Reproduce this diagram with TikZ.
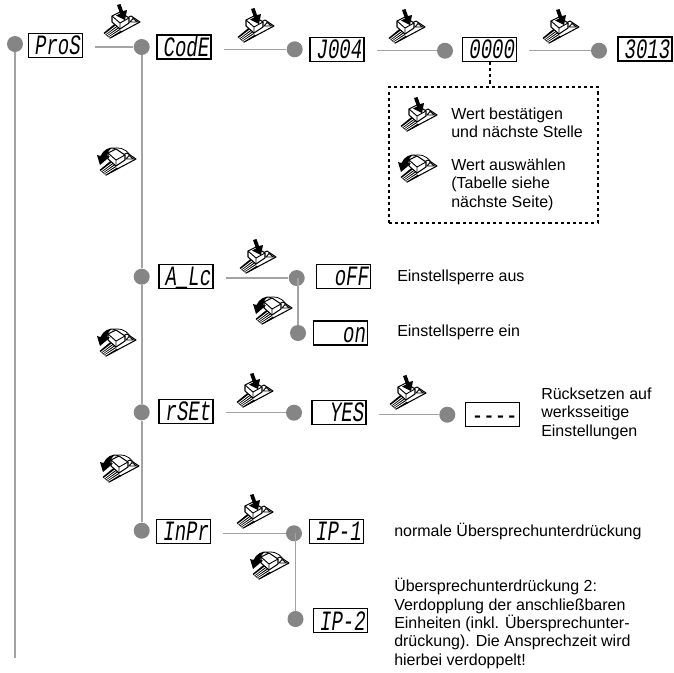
\documentclass[tikz,border=0pt]{standalone}
\usepackage{fontspec}
\usepackage{xcolor}
\usetikzlibrary{positioning}
\setmainfont{Liberation Sans}
\newfontfamily\lcdfont[FakeStretch=0.68]{Liberation Mono}
\definecolor{dotgray}{HTML}{858585}
\definecolor{linegray}{HTML}{A3A3A3}
\tikzset{
  pics/pedalbase/.style={code={
    \draw[black, line width=0.8pt, fill=white, line join=round] (6,33) -- (36,17) -- (27,11) -- (11,19) -- cycle;
    \fill[black] (-0.5,28) -- (6,33.5) -- (18,27) -- (11,18.5) -- cycle;
    \foreach \s in {1,2,3,4}
      \draw[white, line width=0.6pt] ({1.3*\s},{28+1.1*\s}) -- ({11+1.4*\s},{19+1.55*\s});
    \draw[black, line width=0.8pt, fill=white, line join=round] (8,11) -- (16,7) -- (25,13) -- (25,18) -- (16,24) -- (8,17) -- cycle;
    \draw[black, line width=0.7pt] (8,11) -- (16,18) -- (25,13) (16,18) -- (16,24);
    \draw[black, line width=0.7pt] (26,17) -- (29,13.5) -- (33.5,17) -- cycle;
  }},
  pics/pressicon/.style={code={
    \pic {pedalbase};
    \fill[black] (13,0) -- (16.5,-1) -- (19,6) -- (23,5) -- (21,15) -- (12,10.5) -- (16,8.5) -- cycle;
  }},
  pics/turnicon/.style={code={
    \begin{scope}[shift={(3,-6)}]
      \pic {pedalbase};
    \end{scope}
    \draw[black, line width=0.6pt] (33,7) .. controls (28,0) and (21,-1.5) .. (15,1);
    \fill[black] (19,-0.5) .. controls (14,-0.5) and (11,2) .. (10,8) -- (13,8.5) -- (3,17) -- (0,7) -- (3.5,8) .. controls (6,2) and (12,-1.5) .. (19,-0.5) -- cycle;
  }}
}
\begin{document}
\begin{tikzpicture}[x=0.75pt, y=-0.75pt,
  lcdbox/.style={draw=black, line width=0.85pt, minimum width=40.5pt, minimum height=18pt, inner sep=0pt},
  lcdtext/.style={font=\lcdfont\itshape\fontsize{21}{22}\selectfont, text width=38pt, text height=14pt, text depth=0pt, align=right},
  dot/.style={circle, fill=dotgray, minimum size=12pt, inner sep=0pt},
  hbar/.style={draw=linegray, line width=0.8pt, shorten <=9pt},
  vbar/.style={draw=linegray, line width=1.4pt},
  note/.style={anchor=north west, inner sep=0pt, align=left, font=\fontsize{12}{13.8}\selectfont}]
  \useasboundingbox (0,0) rectangle (674,672);

  \coordinate (railend) at (15,658);
  \node[dot] (dotpros) at (15,44) {};
  \node[dot] (dotcode) at (141.7,47) {};
  \node[dot] (dotalc) at (141.7,276.7) {};
  \node[dot] (dotrset) at (141.7,412.3) {};
  \node[dot] (dotinpr) at (141.7,530.7) {};
  \node[dot] (dotj) at (294.7,49.3) {};
  \node[dot] (dotzero) at (445,50.7) {};
  \node[dot] (dotlast) at (599,50.7) {};
  \node[dot] (dotoff) at (296.7,278) {};
  \node[dot] (doton) at (298,333) {};
  \node[dot] (dotyes) at (294,412.7) {};
  \node[dot] (dotdash) at (447.3,414.7) {};
  \node[dot] (dotipa) at (294,533.3) {};
  \node[dot] (dotipb) at (295.5,619) {};

  \node[lcdbox, lcdtext] (boxpros) at (55.5,45.5) {ProS};
  \node[lcdbox, lcdtext] (boxcode) at (184,47) {CodE};
  \node[lcdbox, lcdtext] (boxj) at (337,49.5) {J004};
  \node[lcdbox, lcdtext] (boxzero) at (489.7,49.5) {0000};
  \node[lcdbox, lcdtext] (boxlast) at (645,49) {3013};
  \node[lcdbox, lcdtext] (boxalc) at (186,276.5) {A\_Lc};
  \node[lcdbox, lcdtext] (boxoff) at (343.7,276.5) {oFF};
  \node[lcdbox, lcdtext] (boxon) at (340.7,333) {on};
  \node[lcdbox, lcdtext] (boxrset) at (186,411.5) {rSEt};
  \node[lcdbox, lcdtext] (boxyes) at (339,412.3) {YES};
  \node[lcdbox, lcdtext] (boxdash) at (492.3,414.8) {\upshape----};
  \node[lcdbox, lcdtext] (boxinpr) at (183.7,531.3) {InPr};
  \node[lcdbox, lcdtext] (boxipa) at (336.5,531.3) {IP-1};
  \node[lcdbox, lcdtext] (boxipb) at (340.5,620.7) {IP-2};

  % Haupt- und Nebenlinien
  \draw[vbar] (dotpros) -- (railend);
  \draw[vbar] (dotcode) -- (dotalc);
  \draw[vbar] (dotalc) -- (dotrset);
  \draw[vbar] (dotrset) -- (dotinpr);
  \draw[vbar] (doton |- dotoff) -- (doton);
  \draw[vbar] (dotipb |- dotipa) -- (dotipb);
  \draw[hbar] (boxpros.east |- dotcode) -- (dotcode);
  \draw[hbar] (boxcode.east |- dotj) -- (dotj);
  \draw[hbar] (boxj.east |- dotzero) -- (dotzero);
  \draw[hbar] (boxzero.east |- dotlast) -- (dotlast);
  \draw[hbar] (boxalc.east |- dotoff) -- (dotoff);
  \draw[hbar] (boxrset.east |- dotyes) -- (dotyes);
  \draw[hbar] (boxyes.east |- dotdash) -- (dotdash);
  \draw[hbar] (boxinpr.east |- dotipa) -- (dotipa);

  % Tastensymbole
  \pic at (104,5) {pressicon};
  \pic at (238,9) {pressicon};
  \pic at (389,10) {pressicon};
  \pic at (543,10) {pressicon};
  \pic at (240,240) {pressicon};
  \pic at (237,374) {pressicon};
  \pic at (390,376) {pressicon};
  \pic at (237,495) {pressicon};
  \pic at (97,148) {turnicon};
  \pic at (253,297) {turnicon};
  \pic at (97,329) {turnicon};
  \pic at (100,455) {turnicon};
  \pic at (250,552) {turnicon};

  % Hinweisfeld
  \node[draw=black, line width=1.5pt, dash pattern=on 2.3pt off 2.3pt, minimum width=156.75pt, minimum height=101.8pt] (hint) at (493.5,155) {};
  \draw[black, line width=1.5pt, dash pattern=on 2.3pt off 2.3pt] (boxzero.south) -- (boxzero.south |- hint.north);
  \pic at (401,98) {pressicon};
  \pic at (398,155) {turnicon};
  \node[note] (hintpress) at (451,107.5) {Wert bestätigen\\und nächste Stelle};
  \node[note] (hintturn) at (451,158.5) {Wert auswählen\\(Tabelle siehe\\nächste Seite)};

  \node[note] (textoff) at (397,270) {Einstellsperre aus};
  \node[note] (texton) at (397,325) {Einstellsperre ein};
  \node[note] (textreset) at (541,387.5) {Rücksetzen auf\\werksseitige\\Einstellungen};
  \node[note] (textipa) at (394,523) {normale Übersprechunterdrückung};
  \node[note] (textipb) at (394,578) {Übersprechunterdrückung 2:\\Verdopplung der anschließbaren\\Einheiten (inkl. Übersprechunter-\\drückung). Die Ansprechzeit wird\\hierbei verdoppelt!};
\end{tikzpicture}
\end{document}
